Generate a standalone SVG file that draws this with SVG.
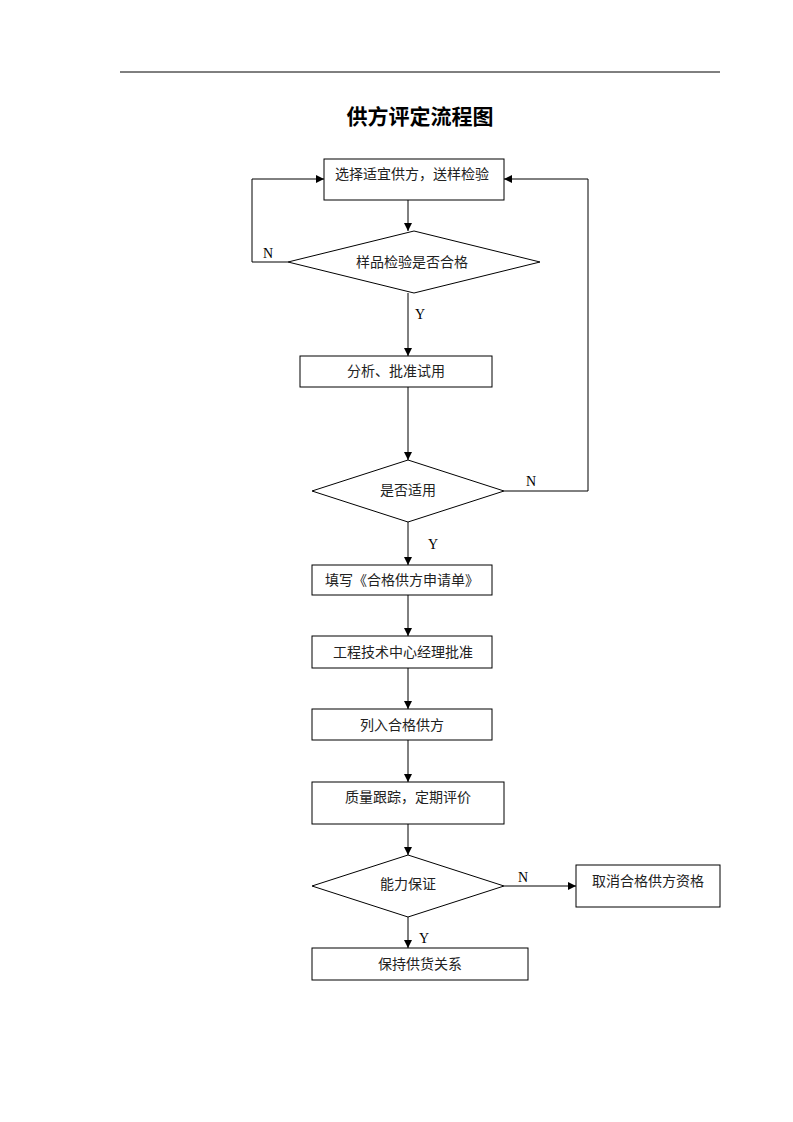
<svg xmlns="http://www.w3.org/2000/svg" width="793" height="1122" viewBox="0 0 793 1122">
<defs>
<marker id="ah" markerWidth="8" markerHeight="8" refX="8" refY="4" orient="auto" markerUnits="userSpaceOnUse">
<path d="M0,0 L8,4 L0,8 Z" fill="#000"/>
</marker>
<style>
.box{fill:#fff;stroke:#000;stroke-width:1}
.t{font-family:"Liberation Serif","Noto Sans CJK SC",serif;font-size:14px;fill:#222}
.c{text-anchor:middle}
.lbl{font-family:"Liberation Serif",serif;font-size:14px;fill:#000}
.ln{fill:none;stroke:#000;stroke-width:1}
</style>
</defs>
<rect width="793" height="1122" fill="#fff"/>
<line x1="120" y1="72" x2="720" y2="72" stroke="#000" stroke-width="1"/>
<text x="420" y="124" text-anchor="middle" style="font-family:'Liberation Serif','Noto Sans CJK SC',serif;font-size:21px;font-weight:bold">供方评定流程图</text>

<g id="connectors">
<line class="ln" x1="408" y1="200" x2="408" y2="231" marker-end="url(#ah)"/>
<polyline class="ln" points="288,262 252,262 252,179 324,179" marker-end="url(#ah)"/>
<line class="ln" x1="408" y1="293" x2="408" y2="356" marker-end="url(#ah)"/>
<line class="ln" x1="408" y1="387" x2="408" y2="460" marker-end="url(#ah)"/>
<polyline class="ln" points="504,491 588,491 588,179 504,179" marker-end="url(#ah)"/>
<line class="ln" x1="408" y1="522" x2="408" y2="565" marker-end="url(#ah)"/>
<line class="ln" x1="408" y1="595" x2="408" y2="636" marker-end="url(#ah)"/>
<line class="ln" x1="408" y1="668" x2="408" y2="709" marker-end="url(#ah)"/>
<line class="ln" x1="408" y1="740" x2="408" y2="782" marker-end="url(#ah)"/>
<line class="ln" x1="408" y1="824" x2="408" y2="855" marker-end="url(#ah)"/>
<line class="ln" x1="504" y1="886" x2="576" y2="886" marker-end="url(#ah)"/>
<line class="ln" x1="408" y1="917" x2="408" y2="948" marker-end="url(#ah)"/>
<text class="lbl" x="263" y="258">N</text>
<text class="lbl" x="415" y="319">Y</text>
<text class="lbl" x="526" y="486">N</text>
<text class="lbl" x="428" y="549">Y</text>
<text class="lbl" x="518" y="882">N</text>
<text class="lbl" x="419" y="943">Y</text>
</g>

<g id="n1"><rect class="box" x="324" y="159" width="180" height="41"/><text class="t" x="335" y="179">选择适宜供方，送样检验</text></g>
<g id="n2"><polygon class="box" points="288,262 414,231 540,262 414,293"/><text class="t c" x="412" y="267">样品检验是否合格</text></g>
<g id="n3"><rect class="box" x="300" y="356" width="192" height="31"/><text class="t c" x="396" y="376">分析、批准试用</text></g>
<g id="n4"><polygon class="box" points="312,491 408,460 504,491 408,522"/><text class="t c" x="408" y="495">是否适用</text></g>
<g id="n5"><rect class="box" x="312" y="565" width="180" height="30"/><text class="t" x="325" y="585">填写《合格供方申请单》</text></g>
<g id="n6"><rect class="box" x="312" y="636" width="180" height="32"/><text class="t" x="333" y="657">工程技术中心经理批准</text></g>
<g id="n7"><rect class="box" x="312" y="709" width="180" height="31"/><text class="t c" x="402" y="730">列入合格供方</text></g>
<g id="n8"><rect class="box" x="312" y="782" width="192" height="42"/><text class="t c" x="408" y="802">质量跟踪，定期评价</text></g>
<g id="n9"><polygon class="box" points="312,886 408,855 504,886 408,917"/><text class="t c" x="408" y="889">能力保证</text></g>
<g id="n10"><rect class="box" x="576" y="865" width="144" height="42"/><text class="t c" x="648" y="886">取消合格供方资格</text></g>
<g id="n11"><rect class="box" x="312" y="948" width="216" height="32"/><text class="t c" x="420" y="969">保持供货关系</text></g>
</svg>
